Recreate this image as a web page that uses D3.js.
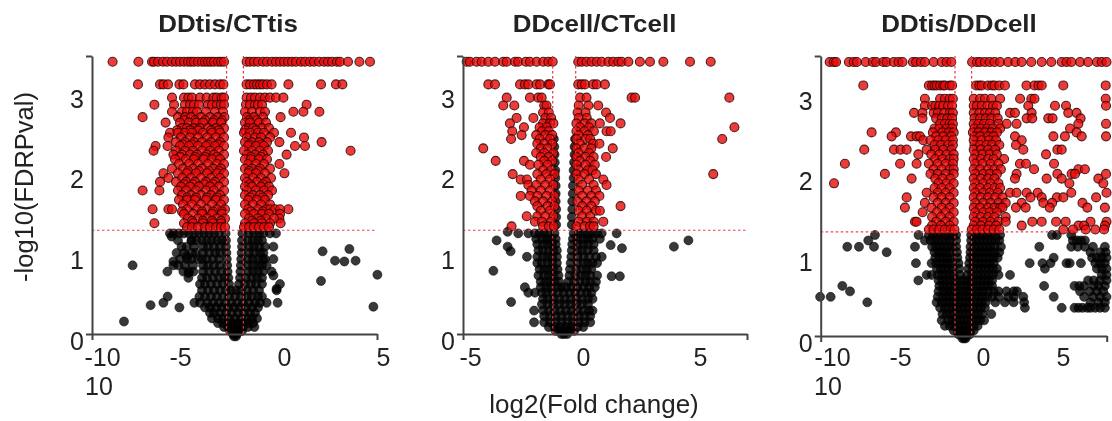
<!DOCTYPE html>
<html><head><meta charset="utf-8">
<script src="https://cdn.jsdelivr.net/npm/d3@7"></script>
<style>html,body{margin:0;padding:0;background:#fff}svg{display:block;filter:blur(.6px)}text{font-family:"Liberation Sans",Arial,sans-serif;fill:#222}</style>
</head><body><svg id="c" width="1112" height="421"></svg>
<script>
const titles=["DDtis/CTtis","DDcell/CTcell","DDtis/DDcell"];
const yTickValues=[0,1,2,3];
const xTickValues=[[-10,-5,0,5],[-5,0,5],[-10,-5,0,5]];
// every row is [y, x, x, x ...]
const tisRedRows=[
[3.49,-8.57,-7.28,-6.6,-6.5,-6.3,-6.05,-5.85,-5.6,-5.4,-5.2,-5,-4.8,-4.65,-4.5,-4.3,-4.1,-3.95,-3.8,-3.65,-3.5,-3.3,-3.15,-3,-1.87,-1.7,-1.5,-1.3,-1.05,-.85,-.6,-.4,-.2,0,.2,.4,.6,.85,1.05,1.3,1.5,1.75,2,2.2,2.4,2.65,2.8,3.2,3.77,4.3],
[3.2,-7.3,-6.2,-6.03,-5.8,-5.23,-5.03,-4.45,-4.2,-3.95,-3.7,-3.45,-3.2,-3.03,-1.87,-1.7,-1.5,-1.35,-1.2,-1.05,-.85,-.62,.22,1.85,2.6,2.92],
[3.03,-5.6,-5,-4.78,-4.6,-4.2,-3.87,-3.53,-3.37,-3.12,-3,-1.87,-1.65,-1.45,-1.2,-.95,-.7,-.4,-.03],
[2.94,-6.48,-5.5,-4.95,-4.7,-4.5,-4.25,-3.8,-3.6,-3.35,-3.15,-3,-1.9,-1.7,-1.45,-1.3,-1.1,1.13],
[2.85,-5.6,-5.1,-4.85,-4.55,-4.35,-3.9,-3.45,-3.05,-1.95,-1.6,-1.2,-.95,.47,.97,1.77],
[2.78,-7.07,-5.3,-4.95,-4.65,-4.15,-3.7,-3.3,-2.98,-1.85,-1.5,-1.05,-.17],
[2.74,-5,-4.45,-3.95,-3.5,-3.1,-1.75,-1.35],
[2.71,-5.92,-5.2,-4.75,-4.4,-4.05,-3.55,-3.15,-1.95,-1.7,-1.25,-.9],
[2.64,-5.1,-4.85,-4.5,-4.2,-3.8,-3.4,-3,-1.85,-1.55,-1.1,-.75],
[2.61,-5.35,-4.7,-4.3,-3.65,-3.25,-1.95,-1.4],
[2.58,-5.7,-5.3,-4.95,-4.6,-4.05,-3.6,-3.2,-2,-1.7,-1.3,-1,-.5,.35],
[2.52,-5.78,-5.15,-4.7,-4.3,-3.85,-3.4,-3,-1.85,-1.45,-1.15,-.7,1],
[2.46,-5.4,-4.95,-4.5,-4.1,-3.65,-3.2,-1.95,-1.6,-1.25,-.85,-.23,1.88],
[2.43,-5.05,-4.6,-3.8,-3.3,-1.75,-1.1],
[2.41,-6.42,-5.82,-5.2,-4.75,-4.3,-3.9,-3.45,-3,-1.8,-1.4,-1,1.05,.55],
[2.35,-6.52,-5.4,-4.95,-4.55,-4.1,-3.7,-3.25,-2,-1.6,-1.2,-.8,3.33],
[2.3,-5.53,-5.1,-4.7,-4.35,-3.85,-3.5,-3,-1.85,-1.45,-1.05,.13],
[2.27,-5.2,-4.45,-3.95,-3.35,-1.65,-1.15],
[2.24,-5.45,-4.9,-4.5,-4,-3.6,-3.2,-1.95,-1.65,-1.25,-.85],
[2.18,-5.25,-4.75,-4.3,-3.8,-3.35,-3,-1.8,-1.4,-1,-.23],
[2.12,-5.6,-5.05,-4.55,-4.1,-3.55,-3.15,-1.95,-1.6,-1.2,-.7],
[2.09,-4.8,-4.25,-3.75,-3.25,-1.75,-1.3],
[2.06,-6.03,-5.3,-4.85,-4.4,-3.85,-3.35,-3,-1.8,-1.4,-.95,.02],
[2,-5.78,-5.1,-4.65,-4.15,-3.65,-3.2,-1.95,-1.55,-1.15,-.65],
[1.95,-6.2,-5.4,-4.9,-4.45,-3.9,-3.45,-3,-1.85,-1.35,-.9],
[1.92,-5,-4.55,-4,-3.55,-1.7,-1.05],
[1.89,-5.15,-4.7,-4.25,-3.7,-3.25,-1.95,-1.6,-1.15,-.75],
[1.84,-7.07,-6.23,-5.3,-4.9,-4.4,-3.9,-3.5,-3,-1.85,-1.4,-1,-.6],
[1.78,-5.1,-4.65,-4.15,-3.65,-3.2,-1.95,-1.55,-1.2,-.8],
[1.75,-4.85,-4.4,-3.85,-3.35,-1.7,-1.05],
[1.72,-5.25,-4.85,-4.45,-3.9,-3.4,-3,-1.8,-1.35,-.95],
[1.66,-5.05,-4.6,-4.15,-3.6,-3.15,-1.95,-1.55,-1.15,-.7],
[1.6,-6.57,-5.78,-5.6,-4.85,-4.35,-3.85,-3.35,-2.95,-1.8,-1.3,-.9,-.7,-.45,.22,-.2],
[1.57,-5.1,-4.1,-3.55,-3.1,-1.65,-1.05],
[1.54,-5,-4.55,-4.1,-3.6,-3.1,-1.95,-1.5,-1.1,-.75,-.2],
[1.48,-4.8,-4.3,-3.85,-3.35,-2.95,-1.75,-1.3,-.9,-.23,-.5],
[1.45,-4.6,-4.05,-3.6,-3.15,-1.6,-1.15],
[1.42,-6.48,-5,-4.55,-4.05,-3.55,-3.15,-1.95,-1.5,-1.1,-.7,-.17],
[1.37,-4.85,-4.6,-4.3,-3.95,-3.7,-3.4,-3.15,-2.95,-2,-1.75,-1.5,-1.25,-1,-.75]
];
const tisBlackRows=[
[1.29,-5.7,-5.5,-5.25,-5,-4.75,-4.5,-4.25,-4,-3.75,-3.5,-3.25,-2.92,-2.08,-1.75,-1.5,-1.25,-1.03,-.7,-.4],
[1.2,-5.3,-4.62,-4.37,-4.1,-3.85,-3.6,-3.35,-3.1,-2.9,-2.1,-1.8,-1.55,-1.3,-1.1],
[1.12,-5.12,-4.87,-4.5,-4.05,-3.8,-3.5,-3.2,-2.9,-2.1,-1.75,-1.5,-1.25,-.53,-.95],
[1.04,-5.37,-5,-4.6,-4.4,-4.05,-3.75,-3.45,-3.2,-2.88,-2.12,-1.75,-1.5,-1.2,-1.03],
[.96,-5.2,-4.85,-4.62,-4.3,-4.1,-3.85,-3.55,-3.25,-2.86,-2.14,-1.8,-1.55,-1.3,-1.05,-.95,-.53],
[.88,-5.53,-5.28,-4.95,-4.55,-4.05,-3.8,-3.5,-3.2,-2.84,-2.16,-1.8,-1.55,-1.3,-1.1,-.87],
[.8,-5.83,-5.03,-4.75,-4.53,-4.05,-3.75,-3.45,-3.15,-2.82,-2.18,-1.8,-1.55,-1.3,-1.05,-.62],
[.72,-4.78,-4.1,-3.85,-3.55,-3.25,-2.98,-2.78,-2.2,-1.9,-1.6,-1.35,-1.1],
[.64,-4.2,-3.95,-3.65,-3.35,-3.05,-2.75,-2.25,-1.95,-1.65,-1.4,-1.1,-.2],
[.56,-4.1,-3.8,-3.5,-3.2,-2.9,-2.65,-2.4,-2.15,-1.85,-1.55,-1.25,-.37],
[.48,-5.82,-4.23,-3.95,-3.65,-3.35,-3.05,-2.75,-2.45,-2.15,-1.85,-1.6,-1.3,-1.1],
[.4,-6.03,-4.48,-4.2,-3.85,-3.55,-3.25,-2.95,-2.65,-2.35,-2.05,-1.75,-1.45,-1.2,-.87,-.32],
[.34,-5.23,-3.95,-3.7,-3.4,-3.1,-2.8,-2.5,-2.2,-1.9,-1.6,-1.3],
[.27,-3.7,-3.5,-3.2,-2.9,-2.6,-2.3,-2,-1.7,-1.45],
[.2,-3.6,-3.3,-3.05,-2.75,-2.45,-2.15,-1.85,-1.6,-1.35],
[.14,-3.3,-3.05,-2.8,-2.55,-2.3,-2.05,-1.8,-1.55],
[.09,-3,-2.8,-2.55,-2.3,-2.05,-1.8,-1.48],
[.04,-2.7,-2.5,-2.3,-2.1],
[0,-2.55,-2.45,-2.35],
[-.03,-2.5,-2.4]
];
const tisBlackOut=[[-7.57,.88],[-8,.16],[-6.67,.37],[-5.53,.93],[-4.87,1],[-5.62,1.25],[-4.62,1.2],[-4.78,.78],[1.93,1.06],[3.27,1.09],[2.55,.94],[3.02,.93],[3.58,.94],[4.67,.76],[1.85,.68],[4.47,.35],[-.37,.58],[-.53,.75]];

const cellRedRows=[
[3.49,-5.07,-4.93,-4.64,-4.42,-4.13,-3.84,-3.48,-3.33,-2.97,-2.83,-2.5,-2.32,-2.03,-1.74,-1.52,-1.33,-.22,-.07,.14,.36,.58,.8,1.09,1.3,1.52,1.67,1.96,2.46,2.9,3.48,4.64,5.54],
[3.2,-4.13,-3.84,-2.75,-2.54,-2.39,-2.03,-1.88,-1.52,-1.45,-.22,-.07,.07,.43,.58,.94],
[3.03,-3.33,-2.32,-1.96,-1.81,-.14,.14,2.1,2.25,6.35],
[2.93,-3.48,-3,-1.7,-1.6,-.2,.22,.65],
[2.84,-1.75,-1.5,-.25,.1,.99],
[2.77,-2.9,-2.17,-1.65,-1.4,-.2,.15,1.16],
[2.7,-3.19,-1.75,-1.45,-1.3,-.3,.05,.35,.72,1.62],
[2.65,-2.58,-1.9,-1.6,-.15,.25,6.57],
[2.6,-3.09,-1.8,-1.5,-.3,.05,.46,1.01,1.19],
[2.55,-2.68,-2.05,-1.65,-1.35,-.2,.2],
[2.5,-3.14,-1.9,-1.45,-.3,.1,.3,6.04],
[2.44,-2,-1.7,-1.35,-.15,.43,.7],
[2.38,-4.35,-1.85,-1.55,-.3,.05,.35,1.28],
[2.32,-2.05,-1.7,-1.3,-.2,.25],
[2.27,-1.85,-1.5,-.3,.1,.45,.99],
[2.22,-3.81,-2.58,-1.7,-1.35,-.15,.3],
[2.17,-2.32,-1.95,-1.55,-.3,.1,.5],
[2.1,-1.75,-1.4,-.2,.2,.4],
[2.05,-3.07,-2,-1.6,-1.25,-.3,.05,.55,5.65],
[1.98,-2.72,-2.45,-1.85,-1.45,-.2,.25,.87],
[1.91,-2.39,-2.05,-1.65,-1.3,-.05,.45,1.01],
[1.84,-2.25,-1.85,-1.45,-.2,.2,.55],
[1.77,-2.72,-2.32,-2,-1.6,-1.25,-.05,.35,.7],
[1.7,-2.1,-1.75,-1.35,-.25,.15,.5],
[1.64,-2,-1.55,-1.25,-.05,.35,1.62],
[1.58,-1.85,-1.45,-.2,.15,.55,.72],
[1.51,-2.46,-2,-1.65,-1.3,-.05,.3],
[1.44,-2.1,-1.8,-1.4,-.2,.15,.45,.87],
[1.38,-3.12,-1.75,-1.5,-1.28,-.3,.05,.29,.45]
];
const cellBlackRows=[
[2.5,-1.28,-.36],[2.4,-1.26,-.38],[2.3,-1.25,-.38],[2.2,-1.24,-.4],[2.1,-1.22,-.42],[2,-1.22,-.42],[1.9,-1.2,-.45],[1.8,-1.2,-.46],[1.7,-1.2,-.48],[1.6,-1.18,-.48],[1.5,-1.18,-.5],[1.4,-1.18,-.5],
[1.29,-2.83,-2.39,-2.1,-1.9,-1.7,-1.5,-1.25,-.42,-.2,0,.2,.4,.6,.8],
[1.22,-2.05,-1.8,-1.6,-1.4,-1.2,-.45,-.25,0,.2,.4,.72],
[1.15,-2,-1.75,-1.55,-1.35,-1.2,-.48,-.25,0,.2,.45],
[1.07,-1.95,-1.75,-1.5,-1.3,-1.15,-.5,-.25,-.05,.2,.45],
[.99,-2.45,-2,-1.75,-1.55,-1.35,-1.15,-.52,-.25,0,.25,.55,.8],
[.91,-2,-1.8,-1.55,-1.35,-1.15,-.55,-.25,0,.2,.4,.6],
[.83,-1.9,-1.7,-1.5,-1.3,-1.12,-.58,-.3,-.05,.15,.35],
[.75,-1.95,-1.7,-1.5,-1.3,-1.08,-.6,-.35,-.1,.1,.3,.6],
[.67,-1.85,-1.65,-1.45,-1.25,-1.05,-.65,-.4,-.15,.1,.3,.55],
[.6,-2.54,-1.85,-1.6,-1.4,-1.15,-.95,-.75,-.5,-.25,0,.25,.5],
[.53,-2.39,-2.1,-1.8,-1.6,-1.35,-1.1,-.85,-.6,-.35,-.1,.15,.35],
[.45,-1.75,-1.55,-1.3,-1.05,-.8,-.55,-.3,-.05,.2,.4],
[.38,-1.8,-1.55,-1.3,-1.05,-.8,-.55,-.3,-.05,.2],
[.3,-2.14,-1.75,-1.5,-1.25,-1,-.75,-.5,-.25,0,.25,.4],
[.23,-1.7,-1.45,-1.2,-.95,-.7,-.45,-.2,.05,.3],
[.15,-2.14,-1.7,-1.45,-1.2,-.95,-.7,-.45,-.2,.05,.3],
[.09,-1.5,-1.25,-1,-.75,-.5,-.25,0],
[.04,-1.2,-1,-.8,-.6,-.4],
[0,-.95,-.84,-.7]
];
const cellBlackOut=[[-3.77,1.2],[-3.29,1.31],[-3.29,1.12],[-3.16,1.06],[-3.91,.81],[-3.14,.41],[1.45,1.29],[1.19,1.14],[1.68,1.1],[1.23,.74],[1.59,.74],[3.94,1.12],[4.57,1.2]];

const ddRedRows=[
[3.5,-9.6,-9.35,-9.2,-8.4,-8.1,-7.9,-7.35,-6.9,-6.7,-6.25,-6.05,-5.6,-5.3,-5.05,-4.4,-4.2,-3.9,-3.65,-3.1,-2.6,-2.3,-2,-.7,-.4,-.2,.1,.4,.7,1.05,1.55,2,2.4,3,3.65,4.25,4.9,5.2,5.5,6.05,6.55,7.1,7.4,7.7],
[3.2,-7.5,-3.4,-3.2,-3.05,-2.9,-2.7,-2.5,-2.4,-2.1,-1.95,-.45,-.25,-.1,.3,.55,.7,1,1.35,2.7,3.2,3.45,3.65,5,7.65],
[3.03,-3.65,-2.7,-2.4,-2.1,-1.9,-.6,-.2,.1,.5,1.05,2.3,3,3.2,7.65],
[2.94,-3.65,-3.2,-3,-2.75,-2.5,-2.2,-1.95,-.6,-.4,-.1,.25,.6,.85,2.81,4.48,5.17,7.67],
[2.85,-4.33,-3.8,-3.1,-2.85,-2.45,-2.1,-1.9,-.6,-.25,.1,.4,.75,1.67,1.98,3.02,5.31,5.83],
[2.78,-3.8,-2.95,-2.6,-2.25,-1.95,-.55,-.2,.15,.5,.9,2.71,3.06,4.06,4.33,6.08],
[2.71,-2.7,-2.4,-2.1,-1.9,-.6,-.3,.05,.4,.95,1.46,2.08,5.94,7.67],
[2.65,-3.05,-2.75,-2.3,-1.95,-.55,-.15,.25,.6,1.05,5.42],
[2.6,-6.98,-5.46,-3.15,-2.55,-2.15,-1.85,-.65,-.3,.1,.5,.85,5.83],
[2.55,-5.73,-4.52,-4.17,-3.96,-2.95,-2.5,-2,-.55,-.2,.3,.65,1.98,4.38,5.1,6.15,7.67],
[2.5,-3.75,-3.3,-2.8,-2.35,-1.9,-.6,-.1,.35,.8,2.4],
[2.44,-3.05,-2.65,-2.2,-1.9,-.55,-.2,.2,.55,1,2.04],
[2.38,-7.44,-5.58,-5.17,-4.79,-3.54,-3,-2.5,-2,-.6,-.15,.3,.75,2.5,4.63,4.9],
[2.32,-4.06,-3.25,-2.75,-2.3,-1.85,-.5,-.05,.4,.85,3.92],
[2.26,-3,-2.55,-2.1,-1.85,-.6,-.15,.3,.65,1.3],
[2.2,-8.65,-5.2,-4.17,-3.4,-2.85,-2.35,-1.9,-.5,-.05,.45,.95,2.29,2.67,4.42],
[2.13,-3.1,-2.6,-2.1,-1.85,-.6,-.2,.3,.7,1.1,3.17,5.94,6.35],
[2.07,-6.15,-3.3,-2.85,-2.35,-1.85,-.5,0,.4,.85,2.08,5.52,5.73,4.63,7.67],
[2.01,-4.48,-3,-2.55,-2.05,-.6,-.15,.3,.7,1.98,3.96,4.9,7.19],
[1.95,-9.33,-2.8,-2.3,-1.85,-.5,0,.45,.95,5.38,7.5],
[1.89,-3.05,-2.6,-2.1,-.6,-.2,.3,.7,1.05],
[1.83,-3.54,-2.85,-2.35,-1.85,-.5,0,.4,.9,1.67,2.08,2.71,3.4,5.5,7.7],
[1.77,-4.79,-3.1,-2.6,-2.1,-.6,-.15,.3,.75,1.2,2.95,3.65,4.6,5,7.05],
[1.7,-3.65,-2.85,-2.35,-1.85,-.5,0,.45,.95,1.4,2.4,3.75,4.3,6.2],
[1.64,-4.9,-3.25,-2.6,-2.1,-.6,-.2,.3,.7,1.05,1.2,2.04,2.65,4.15,6.5,7.6],
[1.58,-3.79,-2.9,-2.35,-1.85,-.5,0,.4,.85],
[1.52,-3.2,-2.65,-2.1,-.6,-.15,.3,.7,1.4],
[1.46,-4.27,-4.17,-2.95,-2.35,-1.85,-.5,0,.45,.95,1.4,3.06,3.65,4.55,5.15,6.7,7.7],
[1.41,-3.2,-2.65,-2.1,-.6,-.15,.35,.8,2.4,5.95,6.3,7.6],
[1.36,-3.4,-3.1,-2.75,-2.4,-2.05,-1.8,-.72,-.4,-.05,.3,.65,1,5.0,5.6,6.4,7,7.55]
];
const ddBlackRows=[
[1.29,-6.77,-4.05,-3.4,-3.15,-2.9,-2.65,-2.4,-2.15,-1.9,-1.7,-.76,-.5,-.25,0,.25,.5,.75,1.05,4.3,4.6,5.5],
[1.22,-7.19,-3.65,-3.3,-3.05,-2.8,-2.55,-2.3,-2.05,-1.7,-.76,-.5,-.25,0,.25,.5,.75,1,5.6,5.85,6.1,6.35],
[1.14,-8.5,-7.77,-6.83,-4.27,-3.2,-2.95,-2.7,-2.45,-2.2,-1.95,-1.7,-.8,-.55,-.3,-.05,.2,.45,.7,1.1,3.5,5.5,5.9,6.35,6.85,7.6],
[1.07,-6.04,-3.05,-2.8,-2.55,-2.3,-2.05,-1.65,-.8,-.55,-.3,-.05,.2,.45,.7,1,6.7,7.3,7.65],
[1,-3,-2.75,-2.5,-2.25,-2,-1.62,-.83,-.6,-.35,-.1,.15,.4,.65,.9,4.4,6.8,7.1,7.4,7.7],
[.93,-4.21,-3.23,-2.95,-2.7,-2.45,-2.2,-1.95,-1.55,-.88,-.6,-.35,-.1,.15,.4,.65,2.9,3.7,4.2,5.2,5.4,6.1,7,7.3,7.6],
[.86,-2.9,-2.65,-2.4,-2.15,-1.9,-1.5,-.92,-.65,-.4,-.15,.1,.35,.6,.85,3.85,7.1,7.4,7.7],
[.78,-3.54,-3.23,-2.85,-2.6,-2.35,-2.1,-1.85,-1.45,-1,-.7,-.4,-.15,.1,.35,.6,.95,1.67,7.4,7.7],
[.71,-4.06,-2.8,-2.55,-2.3,-2.05,-1.75,-1.45,-1.2,-.95,-.7,-.45,-.2,.05,.3,.55,6.55,6.9,7.3,7.7],
[.64,-8.81,-2.75,-2.5,-2.25,-2,-1.75,-1.5,-1.2,-.95,-.7,-.45,-.2,.05,.3,.55,3.8,5.7,6,6.3,6.9,7.2,7.6],
[.57,-8.33,-2.8,-2.5,-2.25,-2,-1.75,-1.5,-1.25,-1,-.75,-.5,-.25,0,.3,.65,.95,1.45,1.9,2.1,6.05,6.65,7.1,7.5],
[.5,-10.2,-9.54,-2.85,-2.55,-2.3,-2.05,-1.8,-1.55,-1.3,-1.05,-.8,-.55,-.3,-.05,.25,.55,.95,1.55,1.9,2.5,4.4,6.3,6.85,7.3,7.7],
[.43,-7.25,-2.92,-2.6,-2.35,-2.1,-1.85,-1.6,-1.35,-1.1,-.85,-.6,-.35,-.1,.15,.75,1.35,1.9,2.55,6.7,7.2,7.6],
[.36,-2.7,-2.4,-2.15,-1.9,-1.65,-1.4,-1.15,-.9,-.65,-.4,-.15,.1,2.6,4.9,5.7,5.95,6.2,6.5,6.7,7,7.3,7.6],
[.28,-2.55,-2.3,-2.05,-1.8,-1.55,-1.3,-1.05,-.8,-.55,-.3,-.05,.5],
[.2,-2.6,-2.2,-1.95,-1.7,-1.45,-1.2,-.95,-.7,-.45,-.2,.05],
[.13,-2.4,-2.1,-1.85,-1.6,-1.35,-1.1,-.85,-.6,-.35],
[.07,-1.85,-1.6,-1.4,-1.2,-1,-.8,-.6],
[.02,-1.55,-1.4,-1.2,-1,-.85],
[-.03,-1.3,-1.2,-1.1]
];

const sigLines=[1.33,1.33,1.33];
const foldLines=[[-2.87,-2.03],[-1.33,-.33],[-1.77,-.73]];
const redRows=[tisRedRows,cellRedRows,ddRedRows];
const blackRows=[tisBlackRows,cellBlackRows,ddBlackRows];
const blackOut=[tisBlackOut,cellBlackOut,[]];

const pix=[
 {l:92,r:377,x0:284,u:20,lab:[102,180,284,383],b:334,t:56,ux:78},
 {l:463,r:747,x0:583.3,u:23,lab:[470,583,700],b:334,t:56,ux:78},
 {l:820.7,r:1106.7,x0:983.3,u:16,lab:[832,900,983,1063],b:336,t:56,ux:78.3}
];
const svg=d3.select("#c");
const expand=rows=>rows.flatMap(r=>r.slice(1).map(x=>[x,r[0]]));

titles.forEach((title,i)=>{
 const p=pix[i];
 const x=d3.scaleLinear().domain([(p.l-p.x0)/p.u,(p.r-p.x0)/p.u]).range([p.l,p.r]);
 const y=d3.scaleLinear().domain([0,(p.b-p.t)/p.ux]).range([p.b,p.t]);
 const g=svg.append("g");
 const black=expand(blackRows[i]).concat(blackOut[i]);
 const red=expand(redRows[i]);
 g.selectAll(".k").data(black).join("circle").attr("class","k")
  .attr("cx",d=>x(d[0])).attr("cy",d=>y(d[1])).attr("r",4.5)
  .attr("fill","rgba(0,0,0,.78)").attr("stroke","rgba(0,0,0,.55)").attr("stroke-width",1);
 g.selectAll(".r").data(red).join("circle").attr("class","r")
  .attr("cx",d=>x(d[0])).attr("cy",d=>y(d[1])).attr("r",4.5)
  .attr("fill","rgba(232,10,8,.8)").attr("stroke","rgba(30,0,0,.8)").attr("stroke-width",1.1);
 g.append("line").attr("x1",p.l).attr("x2",p.r).attr("y1",y(sigLines[i])).attr("y2",y(sigLines[i]))
  .attr("stroke","#f5404f").attr("stroke-width",1.2).attr("stroke-dasharray","2.5 2.5");
 foldLines[i].forEach(v=>g.append("line").attr("x1",x(v)).attr("x2",x(v)).attr("y1",y.range()[1]).attr("y2",p.b)
  .attr("stroke","#f0303f").attr("stroke-width",1.2).attr("stroke-dasharray","2.5 2.5"));
 const ax=g.append("g").attr("transform",`translate(0,${p.b})`).call(d3.axisBottom(x).tickValues(x.domain()).tickFormat("").tickSize(6).tickSizeOuter(0));
 const ay=g.append("g").attr("transform",`translate(${p.l},0)`).call(d3.axisLeft(y).tickValues(y.domain()).tickFormat("").tickSize(6).tickSizeOuter(0));
 [ax,ay].forEach(a=>a.selectAll("path,line").attr("stroke","#444").attr("stroke-width",2));
 const lx=d3.scaleLinear().domain(xTickValues[i]).range(p.lab);
 const ly=d3.scaleLinear().domain([0,3]).range([p.b+7,p.b-235]);
 g.append("g").attr("transform",`translate(0,348)`).call(d3.axisBottom(lx).tickValues(xTickValues[i]).tickSize(0).tickPadding(0).tickFormat(d=>d))
  .call(s=>s.select(".domain").remove()).selectAll("text").attr("font-size",25).attr("dy","0.71em").attr("y",0);
 g.append("g").attr("transform",`translate(${p.l-8},0)`).call(d3.axisLeft(ly).tickValues(yTickValues).tickSize(0).tickPadding(0).tickFormat(d=>d))
  .call(s=>s.select(".domain").remove()).selectAll("text").attr("font-size",25);
 g.append("text").attr("transform",`translate(${[228,594.5,959][i]},32) scale(1.08,1)`).attr("text-anchor","middle").attr("font-weight","bold").attr("font-size",24).text(title);
 if(i!==1) g.append("text").attr("x",[99,828][i/2]).attr("y",395).attr("text-anchor","middle").attr("font-size",25).text("10");
});
svg.selectAll(".tick text").style("font-family",'"Liberation Sans",Arial,sans-serif').style("fill","#222");
svg.append("text").attr("transform","translate(33,187) rotate(-90)").attr("text-anchor","middle").attr("font-size",25.5).text("-log10(FDRPval)");
svg.append("text").attr("x",594).attr("y",413).attr("text-anchor","middle").attr("font-size",26).text("log2(Fold change)");
</script></body></html>
